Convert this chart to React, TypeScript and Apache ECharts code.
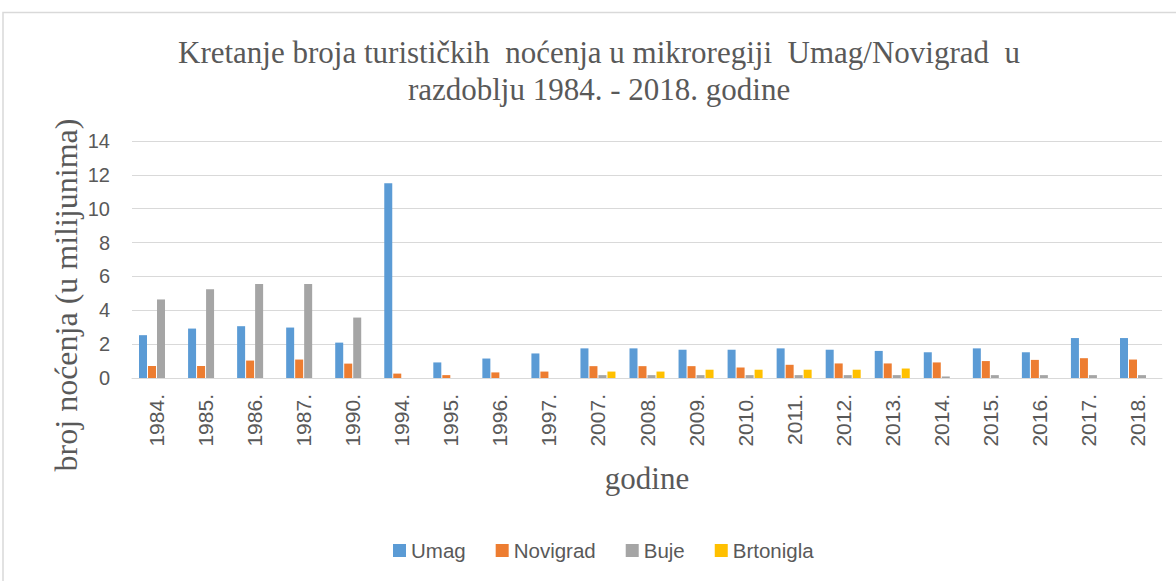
import React, { useEffect, useRef } from "react";
import * as echarts from "echarts";

const categories = ["1984.", "1985.", "1986.", "1987.", "1990.", "1994.", "1995.", "1996.", "1997.", "2007.", "2008.", "2009.", "2010.", "2011.", "2012.", "2013.", "2014.", "2015.", "2016.", "2017.", "2018."];
const umag = [2.53, 2.92, 3.06, 2.98, 2.09, 11.5, 0.92, 1.15, 1.45, 1.75, 1.75, 1.67, 1.67, 1.75, 1.67, 1.6, 1.52, 1.75, 1.52, 2.36, 2.36];
const novigrad = [0.71, 0.71, 1.03, 1.09, 0.85, 0.26, 0.17, 0.33, 0.38, 0.7, 0.7, 0.7, 0.62, 0.78, 0.86, 0.86, 0.92, 1.0, 1.07, 1.17, 1.09];
const buje = [4.64, 5.25, 5.56, 5.56, 3.57, null, null, null, null, 0.17, 0.17, 0.17, 0.17, 0.17, 0.17, 0.17, 0.09, 0.17, 0.17, 0.17, 0.17];
const brtonigla = [null, null, null, null, null, null, null, null, null, 0.38, 0.38, 0.49, 0.49, 0.49, 0.49, 0.56, null, null, null, null, null];
const seriesNames = ["Umag", "Novigrad", "Buje", "Brtonigla"];
const colors = ["#5B9BD5", "#ED7D31", "#A5A5A5", "#FFC000"];
const titleText = "Kretanje broja turističkih  noćenja u mikroregiji  Umag/Novigrad  u\nrazdoblju 1984. - 2018. godine";
const yTitle = "broj noćenja (u milijunima)";
const xTitle = "godine";

export default function App() {
  const ref = useRef<HTMLDivElement>(null);
  useEffect(() => {
    if (!ref.current) return;
    const chart = echarts.init(ref.current, undefined, { renderer: "svg" });
    const values = [umag, novigrad, buje, brtonigla];
    chart.setOption({
      animation: false,
      backgroundColor: "#ffffff",
      color: colors,
      graphic: [
        {
          type: "rect",
          shape: { x: 3, y: 12.5, width: 1300, height: 700 },
          style: { fill: "none", stroke: "#d9d9d9", lineWidth: 1.5 },
          silent: true,
        },
        {
          type: "text",
          x: 599,
          y: 71,
          style: {
            text: titleText,
            font: "31px 'Liberation Serif'",
            fill: "#595959",
            textAlign: "center",
            textVerticalAlign: "middle",
            lineHeight: 37,
          },
        },
        {
          type: "text",
          x: 66,
          y: 295,
          rotation: Math.PI / 2,
          style: {
            text: yTitle,
            font: "32px 'Liberation Serif'",
            fill: "#595959",
            textAlign: "center",
            textVerticalAlign: "middle",
          },
        },
        {
          type: "text",
          x: 647,
          y: 478,
          style: {
            text: xTitle,
            font: "31px 'Liberation Serif'",
            fill: "#595959",
            textAlign: "center",
            textVerticalAlign: "middle",
          },
        },
      ],
      legend: {
        data: seriesNames,
        left: 388,
        top: 535,
        itemWidth: 13,
        itemHeight: 13,
        itemGap: 30,
        icon: "rect",
        textStyle: { fontFamily: "Liberation Sans", fontSize: 20.5, color: "#595959" },
      },
      grid: { left: 132, right: 14, top: 141, bottom: 203 },
      xAxis: {
        type: "category",
        data: categories,
        axisLine: { lineStyle: { color: "#d9d9d9", width: 1 } },
        axisTick: { show: false },
        axisLabel: {
          rotate: 90,
          interval: 0,
          margin: 16,
          fontFamily: "Liberation Sans",
          fontSize: 21,
          color: "#595959",
        },
      },
      yAxis: {
        type: "value",
        min: 0,
        max: 14,
        interval: 2,
        axisLine: { show: false },
        axisTick: { show: false },
        splitLine: { lineStyle: { color: "#d9d9d9", width: 1 } },
        axisLabel: {
          margin: 22,
          fontFamily: "Liberation Sans",
          fontSize: 20,
          color: "#595959",
        },
      },
      series: seriesNames.map((name, i) => ({
        name,
        type: "bar",
        data: values[i],
        barWidth: 8,
        barGap: "12.5%",
        itemStyle: { color: colors[i] },
      })),
    });
    return () => chart.dispose();
  }, []);
  return (
    <div
      ref={ref}
      style={{ position: "absolute", left: 0, top: 0, width: 1176, height: 581, background: "#fff" }}
    />
  );
}
